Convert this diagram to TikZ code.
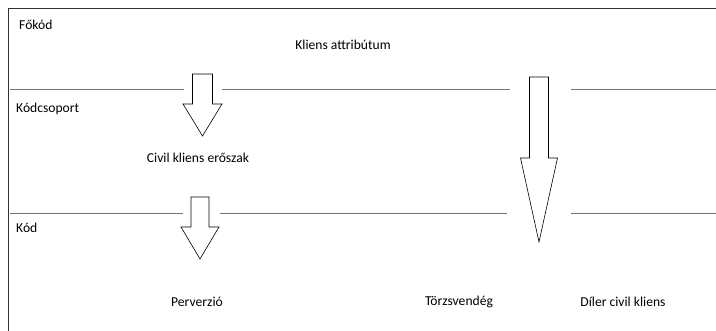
\documentclass[tikz,border=0pt]{standalone}
\usepackage{fontspec}
\setmainfont{Carlito}
\begin{document}
\begin{tikzpicture}[
x=1pt,y=-1pt,
lbl/.style={font=\fontsize{13.6}{15}\selectfont, inner sep=0pt},
sepline/.style={draw=black!55, line width=0.8pt},
blockarrow/.style={draw=black, line width=0.6pt, fill=white}
]
\useasboundingbox (0,0) rectangle (716,331);
% frame
\draw[line width=0.9pt, black!80] (716,8) -- (8,8) -- (8,331);
% level separators
\foreach \y/\a/\b/\c/\d in {89.5/184/222/510/571, 213/183/220/507/571}
  \draw[sepline] (10,\y) -- (\a,\y) (\b,\y) -- (\c,\y) (\d,\y) -- (716,\y);
% level names
\node[lbl,anchor=west] (fokod) at (19,25) {Főkód};
\node[lbl,anchor=west] (kodcsoport) at (16,109) {Kódcsoport};
\node[lbl,anchor=west] (kod) at (16,228) {Kód};
% categories
\node[lbl] (attr) at (343,45) {Kliens attribútum};
\node[lbl] (civil) at (198,158) {Civil kliens erőszak};
\node[lbl] (perverzio) at (197,302) {Perverzió};
\node[lbl] (torzs) at (459,302) {Törzsvendég};
\node[lbl] (diler) at (623,302) {Díler civil kliens};
% block arrows
\foreach \cx/\top/\base/\tip/\sw/\hw in {202.5/74/104/136/10/19.5, 539/77/158/242/9.5/18.5, 200/197/227/259/9/19}
  \draw[blockarrow] (\cx-\sw,\top) -- (\cx+\sw,\top) -- (\cx+\sw,\base) -- (\cx+\hw,\base)
    -- (\cx,\tip) -- (\cx-\hw,\base) -- (\cx-\sw,\base) -- cycle;
\end{tikzpicture}
\end{document}
